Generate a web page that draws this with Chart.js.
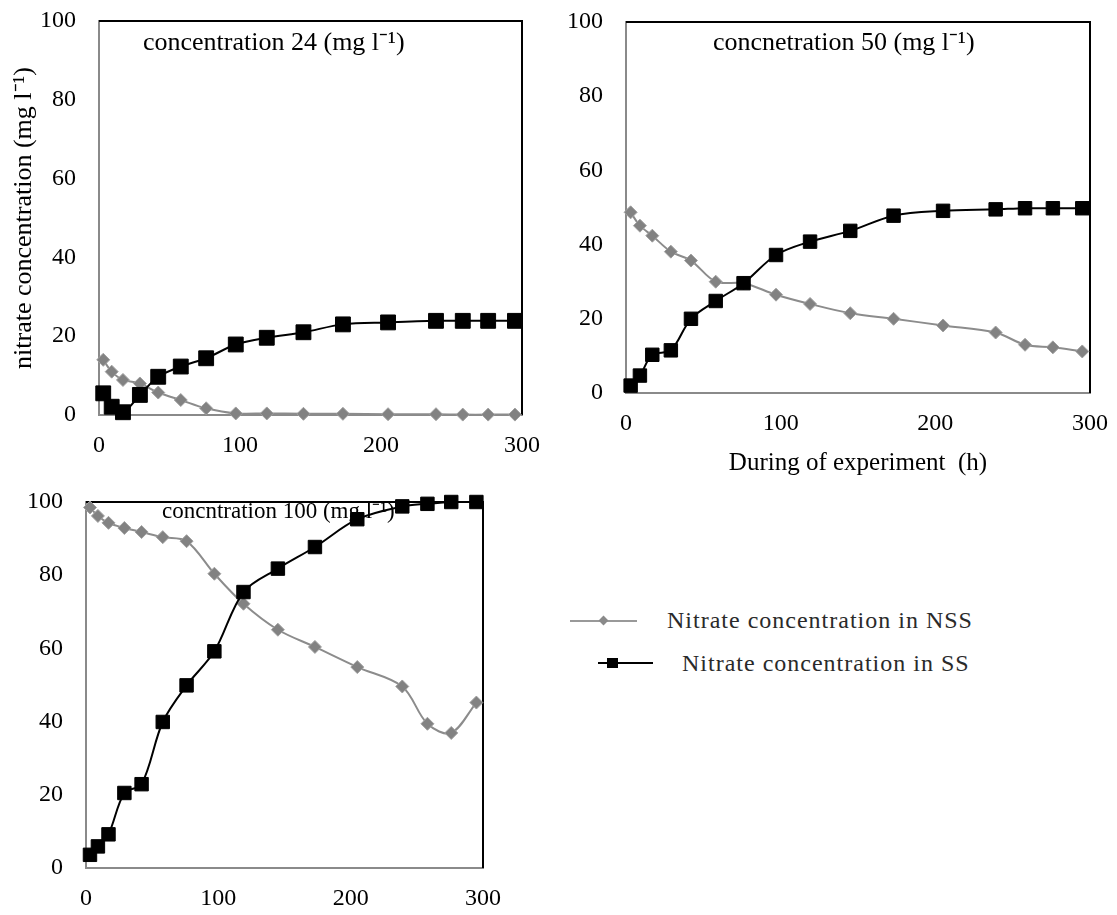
<!DOCTYPE html>
<html>
<head>
<meta charset="utf-8">
<script src="https://cdn.jsdelivr.net/npm/chart.js@4.4.1/dist/chart.umd.min.js"></script>
<style>
  body { margin: 0; background: #fff; }
  #page { position: relative; width: 1117px; height: 915px; overflow: hidden; font-family: 'Liberation Serif', 'Times New Roman', serif; }
  canvas { position: absolute; }
  .mk { position: absolute; }
  .lt { position: absolute; font-size: 24px; line-height: 28px; color: #2a2a2a; letter-spacing: 1px; white-space: nowrap; }
</style>
</head>
<body>
<div id="page">
  <canvas id="c24" width="560" height="470" style="left:0;top:0"></canvas>
  <canvas id="c50" width="557" height="480" style="left:560px;top:0"></canvas>
  <canvas id="c100" width="560" height="455" style="left:0;top:460px"></canvas>

  <div class="mk" style="left:570px;top:620px;width:67px;height:2px;background:#999"></div>
  <div class="mk" style="left:600px;top:617px;width:7px;height:7px;background:#8a8a8a;transform:rotate(45deg)"></div>
  <div class="lt" style="left:667px;top:606px">Nitrate concentration in NSS</div>

  <div class="mk" style="left:598px;top:662px;width:55px;height:2px;background:#000"></div>
  <div class="mk" style="left:607px;top:658px;width:11px;height:10px;background:#000"></div>
  <div class="lt" style="left:682px;top:649px">Nitrate concentration in SS</div>
</div>
<script>
// sampling times (h), shared by all three runs
const hours = [3, 9, 17, 29, 42, 58, 76, 97, 119, 145, 173, 205, 239, 258, 276, 295];

// initial concentration 24 mg/l
const ss24  = [5.5, 2.1, 0.7, 5.1, 9.7, 12.3, 14.4, 17.9, 19.6, 21.0, 23.0, 23.5, 23.9, 23.9, 23.9, 23.9];
const nss24 = [14.0, 11.0, 8.9, 8.0, 5.7, 3.8, 1.7, 0.4, 0.4, 0.3, 0.3, 0.2, 0.2, 0.1, 0.1, 0.1];

// initial concentration 50 mg/l
const ss50  = [2.0, 4.7, 10.3, 11.5, 20.0, 24.8, 29.6, 37.2, 40.8, 43.7, 47.8, 49.1, 49.5, 49.8, 49.8, 49.8];
const nss50 = [48.7, 45.1, 42.4, 38.1, 35.7, 30.0, 29.6, 26.5, 24.0, 21.5, 20.0, 18.2, 16.3, 13.0, 12.3, 11.2];

// initial concentration 100 mg/l
const ss100  = [3.6, 5.9, 9.2, 20.5, 22.9, 39.9, 49.9, 59.2, 75.4, 81.8, 87.7, 95.3, 98.8, 99.5, 100, 100];
const nss100 = [98.5, 96.2, 94.3, 92.9, 91.8, 90.4, 89.3, 80.4, 72.2, 65.1, 60.4, 54.9, 49.6, 39.4, 36.9, 45.2];

const xTicks = [0, 100, 200, 300];
const yTicks = [0, 20, 40, 60, 80, 100];

Chart.defaults.font.family = "'Liberation Serif', 'Times New Roman', serif";
Chart.defaults.color = '#000';

const pairs = vals => vals.map((v, i) => ({ x: hours[i], y: v }));

// black top/right frame + in-plot caption, drawn under the lines
const panelDecor = {
  id: 'panelDecor',
  beforeDatasetsDraw(chart, args, o) {
    const { ctx, chartArea: a } = chart;
    ctx.save();
    ctx.strokeStyle = '#000';
    ctx.lineWidth = 2;
    ctx.beginPath();
    ctx.moveTo(a.left, a.top);
    ctx.lineTo(a.right, a.top);
    ctx.lineTo(a.right, a.bottom);
    ctx.stroke();
    ctx.fillStyle = '#000';
    ctx.font = o.size + "px 'Liberation Serif', serif";
    ctx.textBaseline = 'middle';
    ctx.fillText(o.text, a.left + o.dx, a.top + o.dy);
    ctx.restore();
  }
};

function makeChart(id, nss, ss, opt) {
  return new Chart(document.getElementById(id), {
    type: 'line',
    data: {
      datasets: [
        {
          label: 'Nitrate concentration in SS',
          data: pairs(ss),
          borderColor: '#000', backgroundColor: '#000', borderWidth: 2,
          pointStyle: 'rect', pointRadius: opt.sq, pointBorderWidth: 1,
          tension: 0.33, clip: false
        },
        {
          label: 'Nitrate concentration in NSS',
          data: pairs(nss),
          borderColor: '#8c8c8c', backgroundColor: '#828282', borderWidth: 2,
          pointStyle: 'rectRot', pointRadius: 6.5, pointBorderColor: '#a0a0a0', pointBorderWidth: 1,
          tension: 0.33, clip: false
        }
      ]
    },
    options: {
      responsive: false,
      animation: false,
      layout: { padding: opt.pad },
      plugins: {
        legend: { display: false },
        tooltip: { enabled: false },
        panelDecor: { text: opt.note, dx: opt.noteX, dy: opt.noteY, size: opt.noteSize }
      },
      scales: {
        x: {
          type: 'linear', min: 0, max: 300,
          afterBuildTicks: s => { s.ticks = xTicks.map(v => ({ value: v })); },
          ticks: { padding: 16, font: { size: 24 } },
          grid: { display: false, drawTicks: false },
          border: { color: '#8a8a8a', width: 2 },
          title: opt.xTitle || { display: false },
          afterFit: s => { s.height = opt.xh; s.paddingLeft = 0; s.paddingRight = 0; }
        },
        y: {
          min: 0, max: 100,
          afterBuildTicks: s => { s.ticks = yTicks.map(v => ({ value: v })); },
          ticks: { padding: 23, font: { size: 24 } },
          grid: { display: false, drawTicks: false },
          border: { color: '#8a8a8a', width: 2 },
          title: opt.yTitle || { display: false },
          afterFit: s => { s.width = opt.yw; s.paddingTop = 0; s.paddingBottom = 0; }
        }
      }
    },
    plugins: [panelDecor]
  });
}

makeChart('c24', nss24, ss24, {
  pad: { top: 21, right: 38, bottom: 0, left: 0 },
  yw: 99, xh: 55, sq: 10.5,
  note: 'concentration 24 (mg l⁻¹)', noteX: 44, noteY: 22, noteSize: 26,
  yTitle: { display: true, text: 'nitrate concentration (mg l⁻¹)', font: { size: 26 }, padding: { top: 9, bottom: 0 } }
});

makeChart('c50', nss50, ss50, {
  pad: { top: 22, right: 27, bottom: 0, left: 0 },
  yw: 66, xh: 87, sq: 9.5,
  note: 'concnetration 50 (mg l⁻¹)', noteX: 87, noteY: 21, noteSize: 26,
  xTitle: { display: true, text: 'During of experiment  (h)', font: { size: 25 }, padding: { top: 0, bottom: 2 } }
});

makeChart('c100', nss100, ss100, {
  pad: { top: 42, right: 77, bottom: 0, left: 0 },
  yw: 86, xh: 47, sq: 9.5,
  note: 'concntration 100 (mg l⁻¹)', noteX: 76, noteY: 10, noteSize: 23
});
</script>
</body>
</html>
